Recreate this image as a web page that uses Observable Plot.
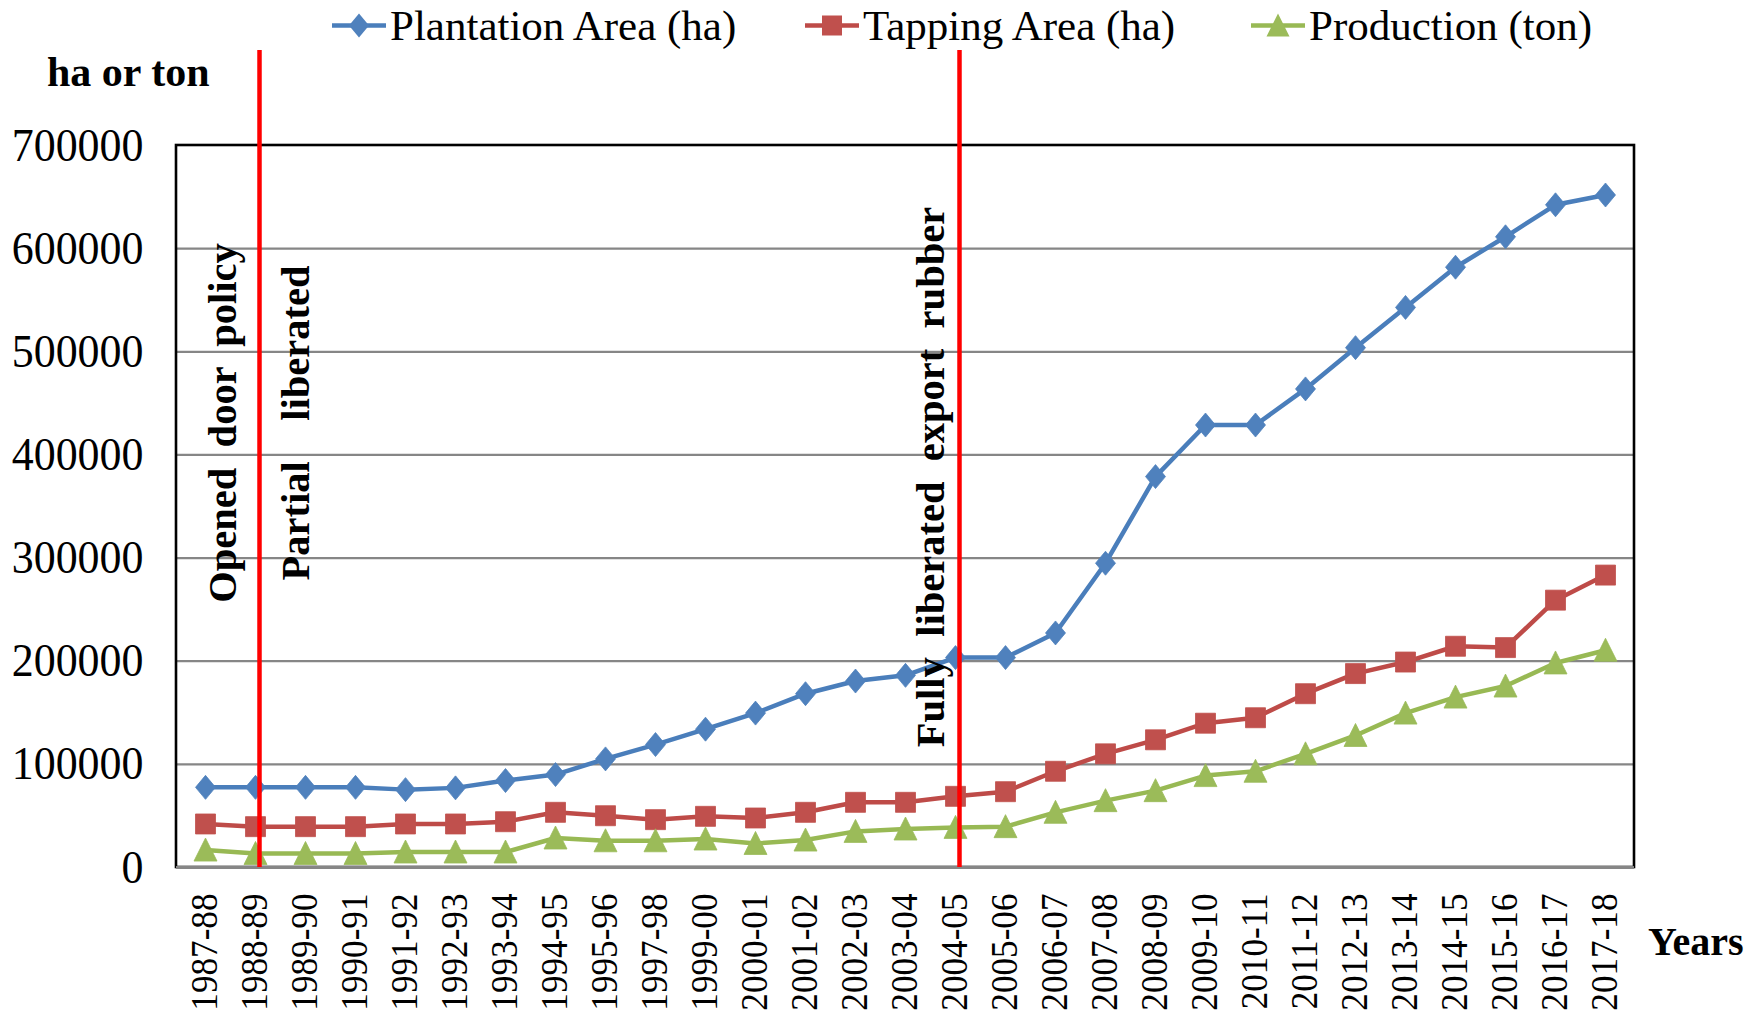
<!DOCTYPE html>
<html>
<head>
<meta charset="utf-8">
<script src="https://cdn.jsdelivr.net/npm/d3@7"></script>
<script src="https://cdn.jsdelivr.net/npm/@observablehq/plot@0.6"></script>
<style>
  html, body { margin: 0; padding: 0; background: #fff; }
  #wrap { position: relative; width: 1748px; height: 1015px; overflow: hidden; font-family: "Liberation Serif", "Times New Roman", serif; }
  #wrap svg text { font-family: "Liberation Serif", "Times New Roman", serif !important; white-space: pre; }
  .abs { position: absolute; transform: translateY(-50%); line-height: 1; white-space: nowrap; color: #000; }
  .leg { display: flex; align-items: center; font-size: 43px; }
  .leg svg { display: block; margin-right: 4px; }
  .bold { font-weight: bold; }
</style>
</head>
<body>
<div id="wrap"></div>
<script>
// ---------- data ----------
const years = ["1987-88","1988-89","1989-90","1990-91","1991-92","1992-93","1993-94","1994-95","1995-96","1997-98","1999-00","2000-01","2001-02","2002-03","2003-04","2004-05","2005-06","2006-07","2007-08","2008-09","2009-10","2010-11","2011-12","2012-13","2013-14","2014-15","2015-16","2016-17","2017-18"];
const plantation = [77700,77700,77700,77700,75500,77200,84300,90100,105300,119200,134100,149700,168500,180800,186300,203500,203500,227400,295000,379000,429000,429000,464000,504000,543000,582000,611500,642500,652000];
const tapping = [42200,39600,39600,39600,42200,42200,44400,53500,50200,46400,49600,48000,53500,63200,63200,69000,73500,93300,110200,123800,139900,145200,168500,188000,199200,214500,213200,259200,283500];
const production = [16900,13600,13600,13600,15000,15000,15000,28600,25900,25900,27600,23300,26600,35000,37300,38900,39600,53500,64800,74500,89100,93300,110200,128000,149700,165200,175900,198300,210600];
const yTicks = [0,100000,200000,300000,400000,500000,600000,700000];
const seriesNames = ["Plantation Area (ha)","Tapping Area (ha)","Production (ton)"];
const events = ["1988-89","2004-05"];
const eventLabels = [
  {year: "1988-89", text: "Opened  door  policy", side: "left"},
  {year: "1988-89", text: "Partial    liberated", side: "right"},
  {year: "2004-05", text: "Fully  liberated  export  rubber", side: "left2"}
];

// ---------- styles ----------
const serif = '"Liberation Serif", "Times New Roman", serif';
const lineColors = ["#4A7EBB","#BE4B48","#98B954"];
const fillColors = ["#4F81BD","#C0504D","#9BBB59"];
const W = 1748, H = 1015;
const mL = 176, mR = 114, mB = 148, frameTop = 145, mT = 50;

// custom marker shapes (Excel-like)
const diamondSym = {draw(c){ c.moveTo(0,-12); c.lineTo(10,0); c.lineTo(0,12); c.lineTo(-10,0); c.closePath(); }};
const squareSym = {draw(c){ c.moveTo(-10,-10); c.lineTo(10,-10); c.lineTo(10,10); c.lineTo(-10,10); c.closePath(); }};
const triSym = {draw(c){ c.moveTo(0,-12); c.lineTo(11.5,11); c.lineTo(-11.5,11); c.closePath(); }};
const symbols = [diamondSym, squareSym, triSym];
const seriesData = [plantation, tapping, production];

const marks = [
  Plot.ruleY(yTicks.slice(1, -1), {stroke: "#868686", strokeWidth: 2.2}),
  Plot.rect([yTicks[yTicks.length-1]], {y1: yTicks[0], y2: d => d, fill: "none", stroke: "#000", strokeWidth: 2.6}),
  Plot.ruleY([yTicks[0]], {stroke: "#868686", strokeWidth: 3}),
  Plot.axisY({ticks: yTicks, tickFormat: d => String(d), tickSize: 0, tickPadding: 33, fontSize: 47, fontFamily: serif, label: null}),
  Plot.axisX({tickRotate: -90, tickSize: 0, tickPadding: 26, fontSize: 37, fontFamily: serif, label: null})
];
seriesData.forEach((vals, s) => {
  marks.push(Plot.line(vals, {x: (d, i) => years[i], y: d => d, stroke: lineColors[s], strokeWidth: 4.5, strokeLinejoin: "round"}));
  marks.push(Plot.dot(vals, {x: (d, i) => years[i], y: d => d, symbol: symbols[s], fill: fillColors[s], stroke: fillColors[s], strokeWidth: 0.8}));
});
marks.push(Plot.ruleX(events, {x: d => d, stroke: "#FF0000", strokeWidth: 4.5, dx: 4}));
const dxBySide = {left: -32, right: 41, left2: -24};
const dyBySide = {left: -36, right: -36, left2: 18};
["left","right","left2"].forEach(side => {
  marks.push(Plot.text(eventLabels.filter(d => d.side === side), {
    x: "year", text: "text", frameAnchor: "middle", rotate: -90,
    dx: dxBySide[side], dy: dyBySide[side],
    fontSize: 39, fontWeight: "bold", fontFamily: serif, fill: "#000", textAnchor: "middle"
  }));
});

const chart = Plot.plot({
  width: W, height: H,
  marginLeft: mL, marginRight: mR, marginTop: mT, marginBottom: mB,
  style: {fontFamily: serif, background: "#fff", color: "#000", overflow: "visible"},
  x: {type: "point", domain: years, padding: 0.5, axis: null},
  y: {domain: [yTicks[0], yTicks[yTicks.length-1]], range: [H - mB, frameTop], axis: null},
  marks
});
// squeeze / stretch a text along its own direction, keeping its anchor point
function squeeze(t, sx) {
  const x = +t.getAttribute("x") || 0, y = +t.getAttribute("y") || 0;
  const tr = t.getAttribute("transform") || "";
  t.setAttribute("transform", `${tr} translate(${x},${y}) scale(${sx},1) translate(${-x},${-y})`);
}
const yLabelSet = new Set(yTicks.map(String));
const xLabelSet = new Set(years);
const annotSet = new Set(eventLabels.map(d => d.text));
chart.querySelectorAll("text").forEach(t => {
  t.style.fontFamily = serif;
  const s = t.textContent;
  if (yLabelSet.has(s)) squeeze(t, 0.935);
  else if (xLabelSet.has(s)) squeeze(t, 0.95);
  else if (annotSet.has(s)) squeeze(t, 1.04);
});
const wrap = document.getElementById("wrap");
wrap.appendChild(chart);

// ---------- legend & axis titles (HTML overlays) ----------
const legLeft = [332, 805, 1251];
seriesNames.forEach((name, s) => {
  const div = document.createElement("div");
  div.className = "abs leg";
  div.style.left = legLeft[s] + "px";
  div.style.top = "25px";
  const sv = d3.create("svg").attr("width", 54).attr("height", 30);
  sv.append("line").attr("x1", 0).attr("x2", 54).attr("y1", 15).attr("y2", 15)
    .attr("stroke", lineColors[s]).attr("stroke-width", 4.5);
  const p = d3.path(); symbols[s].draw(p);
  sv.append("path").attr("d", p.toString()).attr("transform", "translate(27,15)").attr("fill", fillColors[s]);
  div.appendChild(sv.node());
  const sp = document.createElement("span"); sp.textContent = name; div.appendChild(sp);
  wrap.appendChild(div);
});
function addLabel(text, left, top, size) {
  const d = document.createElement("div");
  d.className = "abs bold"; d.textContent = text;
  d.style.left = left + "px"; d.style.top = top + "px"; d.style.fontSize = size + "px";
  wrap.appendChild(d);
}
addLabel("ha or ton", 47, 72, 42);
addLabel("Years", 1648, 942, 40);
</script>
</body>
</html>
